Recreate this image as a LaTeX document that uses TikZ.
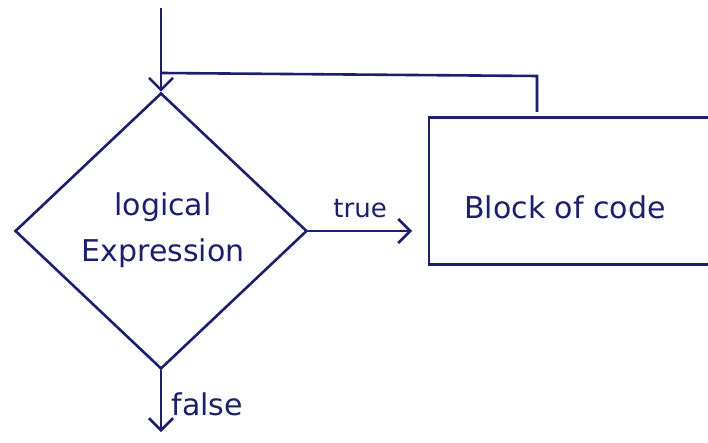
\documentclass[tikz,border=0pt]{standalone}
\usepackage{fontspec}
\setmainfont{DejaVu Sans}
\usetikzlibrary{shapes.geometric,arrows.meta}
\definecolor{ink}{HTML}{1C1F6B}
\begin{document}
\begin{tikzpicture}[x=1pt,y=-1pt,
  line/.style={draw=ink,line width=2.6pt},
  lbl/.style={text=ink,font=\fontsize{30}{36}\selectfont},
  tip/.style={line,-{Straight Barb[length=12pt,width=24pt]}}]
\useasboundingbox[fill=white] (0,0) rectangle (708,443);
\node[line,diamond,minimum width=292pt,minimum height=276pt,inner sep=0pt,aspect=1.06] (cond) at (161,231) {};
\node[lbl,align=center] (ctext) at (163,230) {logical\\[10pt]Expression};
\node[line,minimum width=282pt,minimum height=147pt,inner sep=0pt] (block) at (570,191) {};
\node[lbl] (btext) at (565,207) {Block of code};
\coordinate (start) at (161,8);
\coordinate (junc) at (161,73);
\coordinate (loopup) at (537,112);
\coordinate (loopcorner) at (537,76);
\coordinate (tend) at (412,231);
\coordinate (fend) at (161,432);
\draw[tip] (start) -- (cond.north);
\draw[line] (loopup) -- (loopcorner) -- (junc);
\draw[tip] (cond.east) -- (tend) node[lbl,midway,above=8pt,font=\fontsize{26}{30}\selectfont] (tlabel) {true};
\draw[tip] (cond.south) -- (fend) node[lbl,pos=0.55,right=6pt] (flabel) {false};
\end{tikzpicture}
\end{document}
